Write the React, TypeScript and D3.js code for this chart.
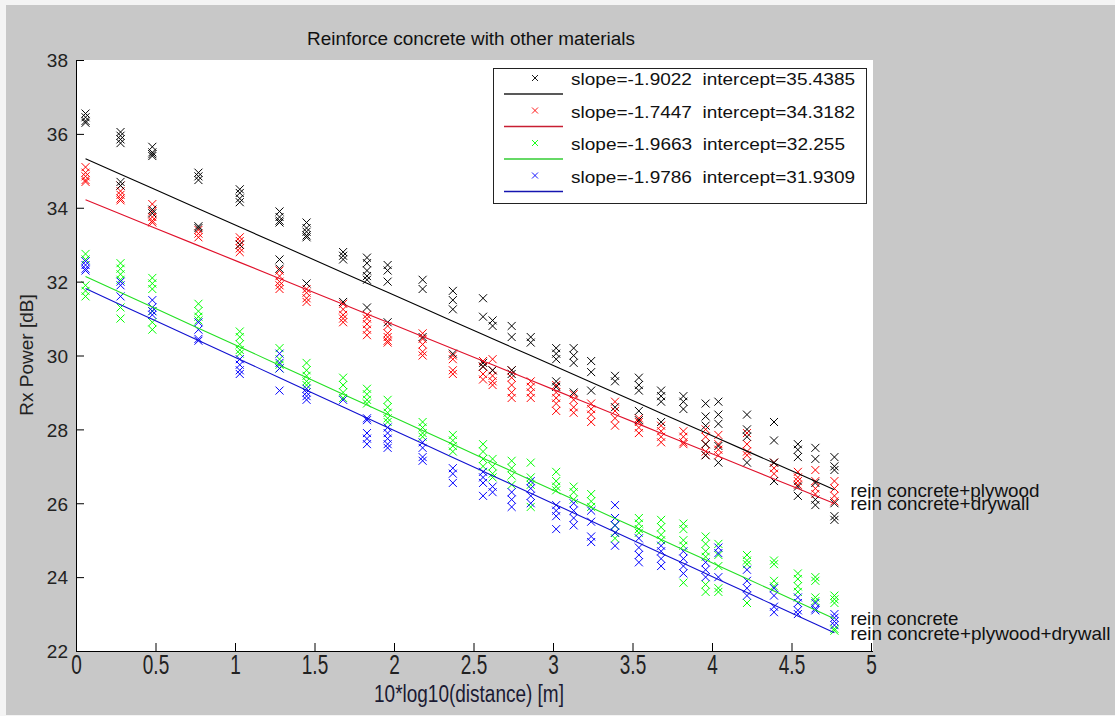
import React, { useEffect, useRef } from "react";
import * as d3 from "d3";

// distinct x positions (10*log10(distance))
const xPositions = [0.06, 0.28, 0.48, 0.77, 1.03, 1.28, 1.45, 1.68, 1.83, 1.96, 2.18, 2.37, 2.56, 2.62, 2.74, 2.86, 3.02, 3.13, 3.24, 3.39, 3.54, 3.68, 3.82, 3.96, 4.04, 4.22, 4.39, 4.54, 4.65, 4.77];

// rein concrete+plywood (black)
const plywoodValues = [
  [36.55, 36.45, 36.35, 36.3],
  [36.05, 35.95, 35.85, 35.75, 34.7, 34.6],
  [35.65, 35.5, 35.45, 35.4, 33.95, 33.85],
  [34.95, 34.85, 34.75, 33.5, 33.45],
  [34.5, 34.4, 34.25, 34.15, 33.0],
  [33.9, 33.75, 33.65, 33.6, 32.6, 32.35],
  [33.6, 33.45, 33.35, 33.25, 33.2, 31.95],
  [32.8, 32.7, 32.6, 31.45],
  [32.65, 32.5, 32.3, 32.15, 32.05, 31.3],
  [32.45, 32.3, 32.0, 30.9],
  [32.05, 31.8, 30.5],
  [31.75, 31.5, 31.25, 30.05],
  [31.55, 31.05, 29.8, 29.7],
  [30.95, 30.8, 29.6],
  [30.8, 30.5, 29.6, 29.5],
  [30.5, 30.35],
  [30.2, 30.05, 29.9, 29.3, 29.15],
  [30.2, 30.0, 29.8, 29.0],
  [29.85, 29.55, 29.05],
  [29.45, 29.3, 28.6],
  [29.4, 29.2, 29.05, 28.5, 28.25],
  [29.05, 28.9, 28.75, 28.2],
  [28.9, 28.75, 28.55],
  [28.7, 28.35, 28.1, 27.6, 27.3],
  [28.75, 28.4, 28.15, 27.55, 27.1],
  [28.4, 28.0, 27.8, 27.1],
  [28.2, 27.7, 27.1, 26.6],
  [27.6, 27.45, 27.25, 26.45, 26.2],
  [27.5, 27.2, 26.55, 26.1, 25.95],
  [27.25, 27.0, 26.9, 26.0, 25.65, 25.55],
];

// rein concrete+drywall (red)
const drywallValues = [
  [35.1, 34.95, 34.85, 34.75, 34.7],
  [34.6, 34.45, 34.35, 34.25, 34.2],
  [34.1, 33.9, 33.75, 33.65, 33.6],
  [33.4, 33.3, 33.2],
  [33.2, 33.1, 33.0, 32.9, 32.8],
  [32.3, 32.15, 32.0, 31.9, 31.8],
  [31.8, 31.7, 31.55, 31.45],
  [31.4, 31.25, 31.1, 31.0, 30.9],
  [31.1, 31.0, 30.85, 30.7, 30.55],
  [30.8, 30.6, 30.5, 30.4, 30.35],
  [30.6, 30.45, 30.3, 30.1, 30.0],
  [30.0, 29.9, 29.6, 29.5],
  [29.85, 29.7, 29.5, 29.35],
  [29.9, 29.6, 29.45, 29.3, 29.2],
  [29.6, 29.4, 29.2, 29.0, 28.85],
  [29.3, 29.15, 29.0, 28.85],
  [29.2, 29.0, 28.85, 28.7, 28.5],
  [28.95, 28.8, 28.6, 28.45],
  [28.7, 28.55, 28.4, 28.2],
  [28.75, 28.5, 28.3, 28.1],
  [28.3, 28.2, 28.05, 27.9],
  [28.1, 27.95, 27.8, 27.65],
  [27.95, 27.8, 27.65, 27.6],
  [28.0, 27.8, 27.6, 27.4, 27.3],
  [27.85, 27.6, 27.45, 27.3],
  [27.9, 27.6, 27.4, 27.3],
  [27.1, 26.95, 26.8],
  [26.85, 26.7, 26.6, 26.5],
  [26.9, 26.6, 26.4, 26.25],
  [26.6, 26.4, 26.2, 26.05],
];

// rein concrete (green)
const concreteValues = [
  [32.75, 32.6, 31.9, 31.75, 31.6],
  [32.5, 32.35, 32.2, 32.05, 31.3, 31.0],
  [32.1, 31.95, 31.8, 31.2, 30.9, 30.7],
  [31.4, 31.2, 31.05, 30.95],
  [30.65, 30.5, 30.3, 30.15, 30.05],
  [30.2, 29.9, 29.75, 29.65],
  [29.8, 29.6, 29.45, 29.3, 29.2],
  [29.4, 29.2, 29.0, 28.85],
  [29.1, 28.95, 28.8, 28.7],
  [28.8, 28.6, 28.45, 28.3, 28.2],
  [28.2, 28.05, 27.9, 27.8],
  [27.85, 27.7, 27.55, 27.4],
  [27.6, 27.4, 27.2, 27.0],
  [27.2, 27.0, 26.8, 26.7],
  [27.15, 26.95, 26.75, 26.5],
  [27.1, 26.7, 26.5, 25.9],
  [26.85, 26.6, 26.45, 26.35],
  [26.45, 26.3, 26.1],
  [26.25, 26.05, 25.9],
  [25.6, 25.4, 25.2, 25.05],
  [25.6, 25.45, 25.3, 25.2],
  [25.55, 25.35, 25.15, 25.0],
  [25.45, 25.3, 25.0, 24.85, 23.85],
  [25.1, 24.9, 24.7, 24.55, 23.8, 23.6],
  [24.9, 24.6, 24.3, 23.7, 23.6],
  [24.6, 24.45, 24.35, 23.3],
  [24.45, 24.35, 23.9, 23.75],
  [24.1, 23.95, 23.75, 23.6],
  [24.0, 23.9, 23.45, 23.35],
  [23.5, 23.4, 23.3, 22.6, 22.55],
];

// rein concrete+plywood+drywall (blue)
const plywoodDrywallValues = [
  [32.55, 32.45, 32.35, 32.3],
  [32.0, 31.9, 31.6],
  [31.5, 31.3, 31.2, 31.1],
  [30.9, 30.7, 30.45, 30.4],
  [29.9, 29.75, 29.6, 29.5],
  [30.05, 29.8, 29.65, 29.05],
  [29.1, 29.0, 28.9, 28.8],
  [28.8],
  [28.3, 28.25, 27.9, 27.75, 27.6],
  [28.05, 27.9, 27.75, 27.6, 27.5],
  [27.65, 27.5, 27.25, 27.15],
  [26.95, 26.8, 26.55],
  [26.85, 26.7, 26.55, 26.2],
  [26.45, 26.3],
  [26.3, 26.1, 25.9],
  [26.6, 26.4, 26.2, 26.0],
  [25.95, 25.8, 25.65, 25.3],
  [26.0, 25.8, 25.6, 25.4],
  [25.8, 25.5, 25.1, 24.95],
  [25.95, 25.6, 25.4, 25.2, 24.85],
  [25.05, 24.8, 24.6, 24.4],
  [24.85, 24.7, 24.5, 24.3],
  [24.7, 24.5, 24.3, 24.1],
  [24.4, 24.2, 24.0],
  [24.8, 24.65, 24.0],
  [24.2, 23.9, 23.7, 23.5],
  [23.7, 23.5, 23.2, 23.05],
  [23.45, 23.3, 23.1, 23.0],
  [23.3, 23.15, 23.1],
  [23.0, 22.9, 22.8, 22.7],
];

const seriesNames = ["rein concrete+plywood", "rein concrete+drywall", "rein concrete", "rein concrete+plywood+drywall"];
const slopes = [-1.9022, -1.7447, -1.9663, -1.9786];
const intercepts = [35.4385, 34.3182, 32.255, 31.9309];
const xTicks = [0, 0.5, 1, 1.5, 2, 2.5, 3, 3.5, 4, 4.5, 5];
const yTicks = [22, 24, 26, 28, 30, 32, 34, 36, 38];

const titleText = "Reinforce concrete with other materials";
const xLabelText = "10*log10(distance) [m]";
const yLabelText = "Rx Power [dB]";

const W = 1115;
const H = 716;
const left = 76;
const right = 871;
const top = 60;
const bottom = 651;
const FONT = "'Liberation Sans', Arial, Helvetica, sans-serif";

const markerColors = ["#000000", "#ff0000", "#00ff00", "#0000ff"];
const lineColors = ["#000000", "#e0102a", "#22e022", "#1010d0"];
const legendLineColors = ["#222222", "#c81e32", "#33cc33", "#1515b0"];
const labelWidths = [189, 179, 108, 260];

const allSeries = [plywoodValues, drywallValues, concreteValues, plywoodDrywallValues];
const drawOrder = [1, 0, 2, 3];

const xScale = d3.scaleLinear().domain([0, 5]).range([left, right]);
const yScale = d3.scaleLinear().domain([22, 38]).range([bottom, top]);

const M = 4;
const crossPath = `M${-M},${-M}L${M},${M}M${-M},${M}L${M},${-M}`;

export default function App() {
  const xAxisRef = useRef<SVGGElement>(null);
  const yAxisRef = useRef<SVGGElement>(null);

  useEffect(() => {
    const gx = d3.select(xAxisRef.current as SVGGElement);
    gx.call(
      d3
        .axisBottom(xScale)
        .tickValues(xTicks)
        .tickSize(-8)
        .tickSizeOuter(0)
        .tickPadding(0)
        .tickFormat(d3.format("") as any)
    );
    gx.attr("font-size", null).attr("font-family", null);
    gx.select(".domain").attr("stroke", "#000").attr("d", `M${left},0.5H${right + 2}`);
    gx.selectAll(".tick line").attr("stroke", "#000");
    gx.selectAll(".tick text")
      .attr("y", 0)
      .attr("dy", 0)
      .attr("transform", "translate(0,23) scale(1,1.42)")
      .attr("font-size", 19)
      .attr("font-family", FONT)
      .attr("fill", "#222");

    const gy = d3.select(yAxisRef.current as SVGGElement);
    gy.call(
      d3
        .axisLeft(yScale)
        .tickValues(yTicks)
        .tickSize(-8)
        .tickSizeOuter(0)
        .tickPadding(8)
        .tickFormat(d3.format("") as any)
    );
    gy.attr("font-size", null).attr("font-family", null);
    gy.select(".domain").attr("stroke", "#000");
    gy.selectAll(".tick line").attr("stroke", "#000");
    gy.selectAll(".tick text")
      .attr("font-size", 19)
      .attr("font-family", FONT)
      .attr("fill", "#222")
      .attr("dy", "0.36em");
  }, []);

  const fitLine = (k: number) =>
    d3
      .line<number>()
      .x((d) => xScale(d))
      .y((d) => yScale(intercepts[k] + slopes[k] * d))(xPositions) || "";

  const lastX = xPositions[xPositions.length - 1];

  const legendX0 = 493;
  const legendY0 = 68;
  const rowH = 32.5;

  return (
    <svg
      width={W}
      height={H}
      style={{ position: "absolute", left: 0, top: 0, display: "block" }}
      xmlns="http://www.w3.org/2000/svg"
    >
      <rect x={0} y={0} width={W} height={H} fill="#f4f4f4" />
      <rect x={6} y={5} width={W - 6} height={H - 6} fill="#c8c8c8" />
      <rect x={left} y={top} width={873 - left} height={bottom - top} fill="#ffffff" />

      <text
        x={471}
        y={45}
        textAnchor="middle"
        fontSize={18}
        fontFamily={FONT}
        fill="#111"
        textLength={328}
        lengthAdjust="spacingAndGlyphs"
      >
        {titleText}
      </text>

      {/* markers */}
      {drawOrder.map((k) => (
        <g key={`s${k}`} stroke={markerColors[k]} strokeWidth={1} fill="none">
          {allSeries[k].map((col, i) =>
            col.map((v, j) => (
              <path
                key={`${i}-${j}`}
                d={crossPath}
                transform={`translate(${xScale(xPositions[i])},${yScale(v)})`}
              />
            ))
          )}
        </g>
      ))}

      {/* fitted lines */}
      {[0, 1, 2, 3].map((k) => (
        <path key={`l${k}`} d={fitLine(k)} fill="none" stroke={lineColors[k]} strokeWidth={1.1} />
      ))}

      {/* axes */}
      <g ref={yAxisRef} transform={`translate(${left},0)`} />
      <g ref={xAxisRef} transform={`translate(0,${bottom})`} />

      {/* series end labels */}
      {[0, 1, 2, 3].map((k) => (
        <text
          key={`lab${k}`}
          x={xScale(lastX) + 16}
          y={yScale(intercepts[k] + slopes[k] * lastX)}
          dy="0.36em"
          fontSize={19}
          fontFamily={FONT}
          fill="#111"
          textLength={labelWidths[k]}
          lengthAdjust="spacingAndGlyphs"
        >
          {seriesNames[k]}
        </text>
      ))}

      {/* axis labels */}
      <text
        x={469}
        y={0}
        transform="translate(0,702) scale(1,1.3)"
        textAnchor="middle"
        fontSize={19}
        fontFamily={FONT}
        fill="#1a1a33"
      >
        {xLabelText}
      </text>
      <text
        transform="translate(33,355) rotate(-90)"
        textAnchor="middle"
        fontSize={19}
        fontFamily={FONT}
        fill="#222"
      >
        {yLabelText}
      </text>

      {/* legend */}
      <rect x={legendX0 + 0.5} y={legendY0 + 0.5} width={373} height={135} fill="#fff" stroke="#222" strokeWidth={1} />
      {[0, 1, 2, 3].map((k) => {
        const yMark = 78 + k * rowH;
        const yLine = 94 + k * rowH;
        return (
          <g key={`leg${k}`}>
            <path
              d={`M-3,-3L3,3M-3,3L3,-3`}
              transform={`translate(535,${yMark})`}
              stroke={markerColors[k]}
              strokeWidth={0.9}
              fill="none"
            />
            <line x1={504} x2={563} y1={yLine} y2={yLine} stroke={legendLineColors[k]} strokeWidth={1.3} />
            <text
              x={571}
              y={yMark + 7}
              fontSize={16}
              fontFamily={FONT}
              fill="#111"
              style={{ whiteSpace: "pre" }}
              textLength={k === 2 ? 274 : 284}
              lengthAdjust="spacingAndGlyphs"
            >
              {`slope=${slopes[k]}  intercept=${intercepts[k]}`}
            </text>
          </g>
        );
      })}
    </svg>
  );
}
